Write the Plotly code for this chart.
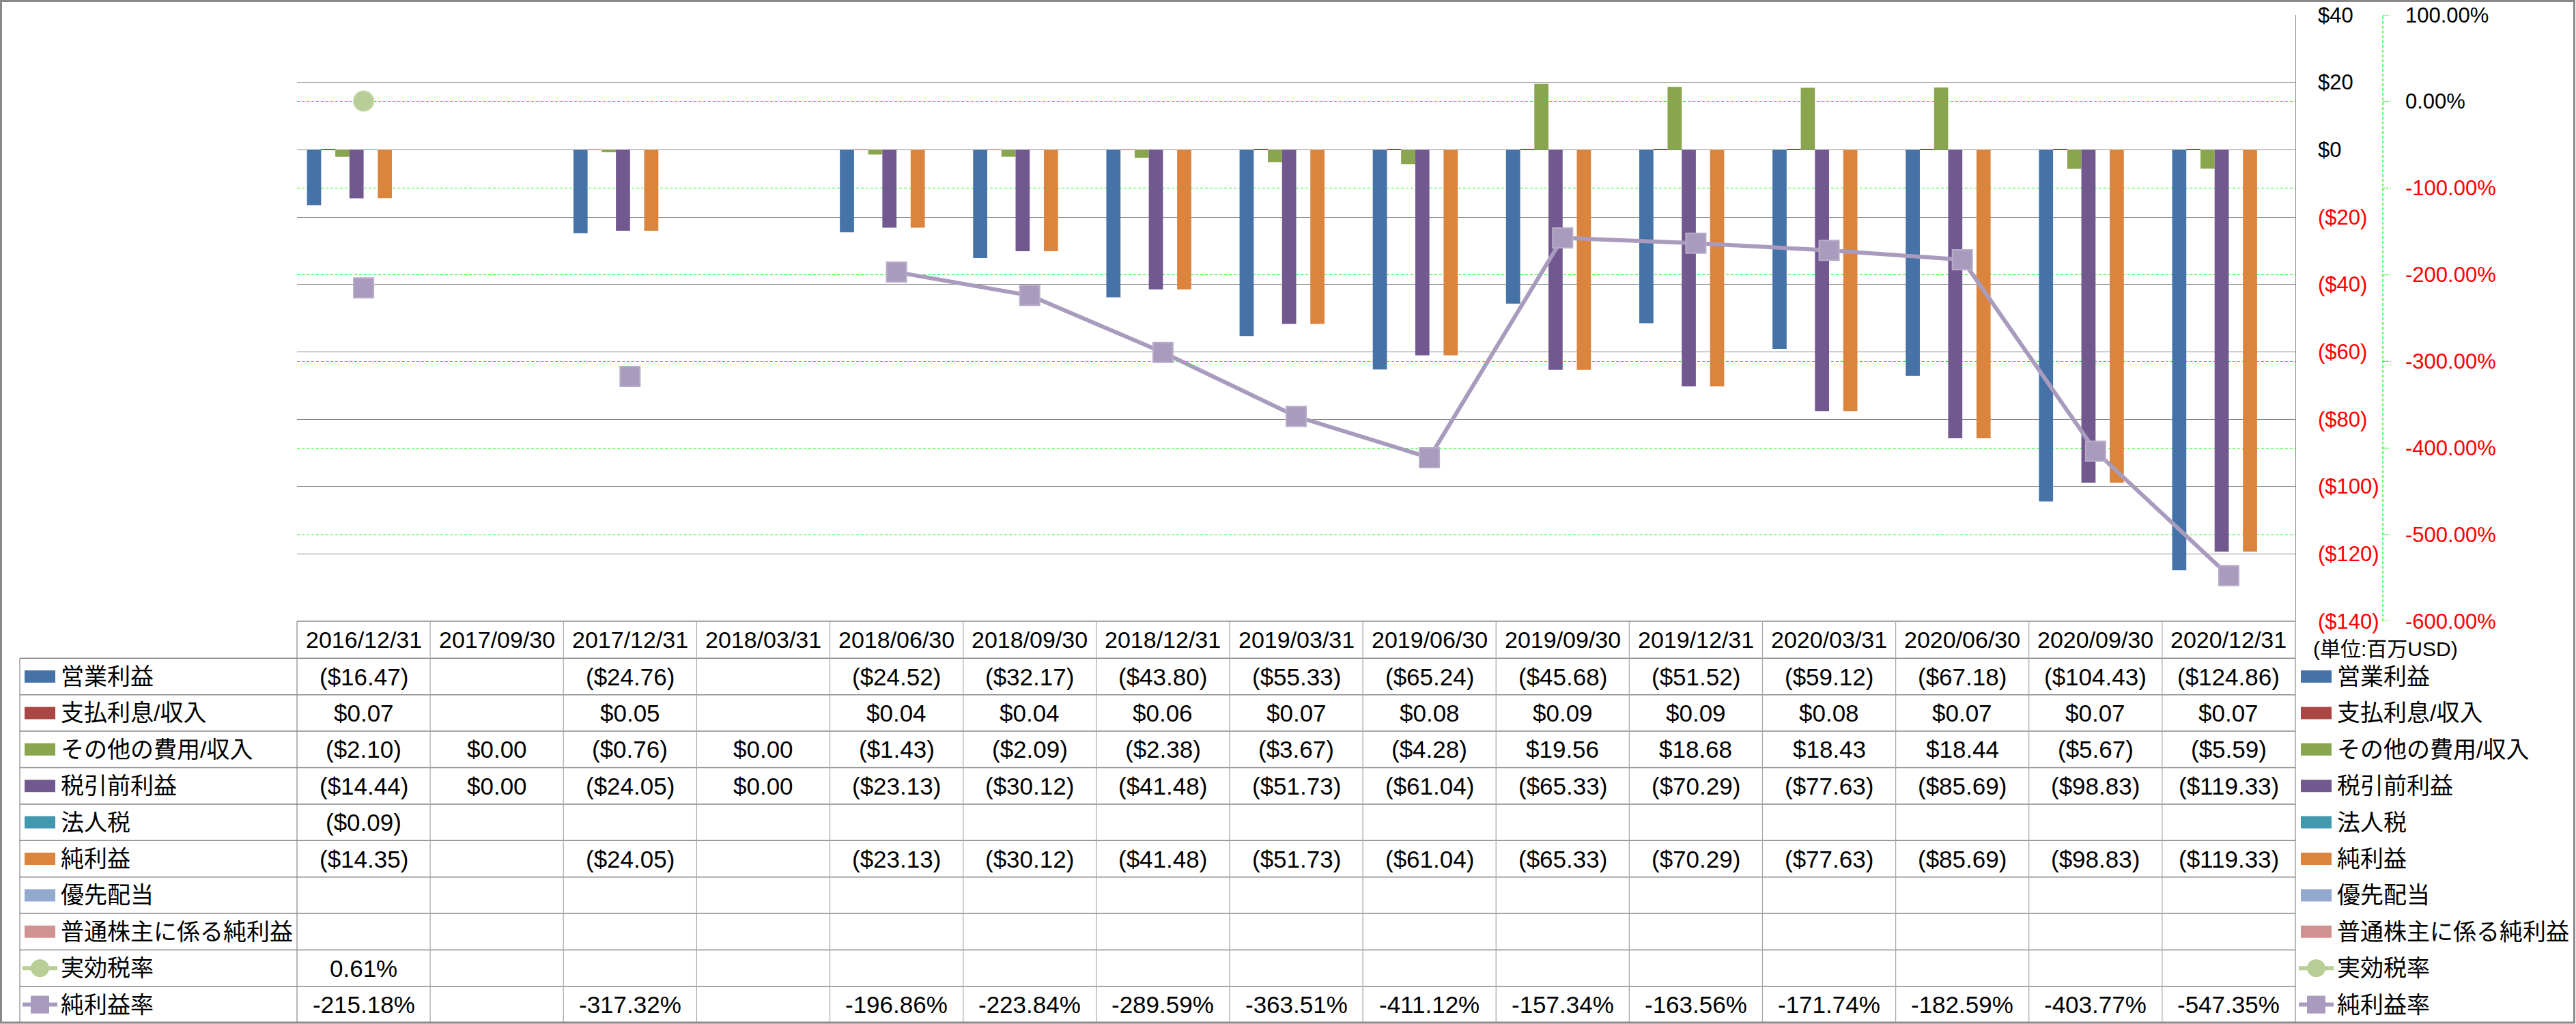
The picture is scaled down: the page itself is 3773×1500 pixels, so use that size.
import plotly.graph_objects as go

# ---- data (百万USD) ----
periods = ["2016/12/31", "2017/09/30", "2017/12/31", "2018/03/31", "2018/06/30",
           "2018/09/30", "2018/12/31", "2019/03/31", "2019/06/30", "2019/09/30",
           "2019/12/31", "2020/03/31", "2020/06/30", "2020/09/30", "2020/12/31"]

operating_income = [-16.47, None, -24.76, None, -24.52, -32.17, -43.80, -55.33,
                    -65.24, -45.68, -51.52, -59.12, -67.18, -104.43, -124.86]
interest = [0.07, None, 0.05, None, 0.04, 0.04, 0.06, 0.07,
            0.08, 0.09, 0.09, 0.08, 0.07, 0.07, 0.07]
other_income = [-2.10, 0.00, -0.76, 0.00, -1.43, -2.09, -2.38, -3.67,
                -4.28, 19.56, 18.68, 18.43, 18.44, -5.67, -5.59]
pretax_income = [-14.44, 0.00, -24.05, 0.00, -23.13, -30.12, -41.48, -51.73,
                 -61.04, -65.33, -70.29, -77.63, -85.69, -98.83, -119.33]
income_tax = [-0.09, None, None, None, None, None, None, None,
              None, None, None, None, None, None, None]
net_income = [-14.35, None, -24.05, None, -23.13, -30.12, -41.48, -51.73,
              -61.04, -65.33, -70.29, -77.63, -85.69, -98.83, -119.33]
preferred_div = [None, None, None, None, None, None, None, None,
                 None, None, None, None, None, None, None]
net_to_common = [None, None, None, None, None, None, None, None,
                 None, None, None, None, None, None, None]

effective_tax_rate = [0.0061, None, None, None, None, None, None, None,
                      None, None, None, None, None, None, None]
net_margin = [-2.1518, None, -3.1732, None, -1.9686, -2.2384, -2.8959, -3.6351,
              -4.1112, -1.5734, -1.6356, -1.7174, -1.8259, -4.0377, -5.4735]

bar_names = ["営業利益", "支払利息/収入", "その他の費用/収入", "税引前利益",
             "法人税", "純利益", "優先配当", "普通株主に係る純利益"]
bar_values = [operating_income, interest, other_income, pretax_income,
              income_tax, net_income, preferred_div, net_to_common]
bar_colors = ["#4572A7", "#AA4643", "#89A54E", "#71588F",
              "#4198AF", "#DB843D", "#93A9CF", "#D19392"]

line_names = ["実効税率", "純利益率"]
line_values = [effective_tax_rate, net_margin]
line_colors = ["#B9CD96", "#A99BBD"]
line_symbols = ["circle", "square"]

usd_ticks = [40, 20, 0, -20, -40, -60, -80, -100, -120, -140]
pct_ticks = [1, 0, -1, -2, -3, -4, -5, -6]

unit_note = "(単位:百万USD)"

# ---- geometry (pixels) ----
W, H = 3773, 1500
PL, PR, PT, PB = 435, 3362, 22, 910
HEAD_TOP, HEAD_BOT = 910, 964.3
ROW_H = 53.4
TABLE_LEFT = 29
FONT = "Liberation Sans, Noto Sans CJK JP"
GRID = "#898989"
RED = "#FF0000"


def fx(px):
    return (px - PL) / (PR - PL)


def fy(py):
    return (PB - py) / (PB - PT)


def fmt_usd(v):
    if v is None:
        return ""
    return f"(${-v:.2f})" if v < 0 else f"${v:.2f}"


def fmt_pct(v):
    if v is None:
        return ""
    return f"{v * 100:.2f}%"


fig = go.Figure()

n_bars = len(bar_names)
bar_w = 0.85 / n_bars
for k, (name, vals, color) in enumerate(zip(bar_names, bar_values, bar_colors)):
    fig.add_trace(go.Bar(
        x=periods, y=vals, name=name, marker_color=color, marker_line_width=0,
        width=bar_w, offset=-0.425 + k * bar_w,
    ))

for name, vals, color, sym in zip(line_names, line_values, line_colors, line_symbols):
    fig.add_trace(go.Scatter(
        x=periods, y=vals, name=name, yaxis="y2", mode="lines+markers",
        connectgaps=False, line=dict(color=color, width=6),
        marker=dict(symbol=sym, size=29, color=color,
                    line=dict(color="#B8ADC9" if sym == "square" else "#C4D6A6", width=2)),
    ))

shapes = []
annotations = []

# axis tick labels (placed on the axes' own scales)
for v in usd_ticks:
    annotations.append(dict(xref="paper", yref="y", x=fx(3393), y=v, showarrow=False,
                            text=f"${v}" if v >= 0 else f"(${-v})", xanchor="left", yanchor="middle",
                            font=dict(size=31, color="black" if v >= 0 else RED)))
for v in pct_ticks:
    annotations.append(dict(xref="paper", yref="y2", x=fx(3521), y=v, showarrow=False,
                            text=f"{v * 100:.2f}%", xanchor="left", yanchor="middle",
                            font=dict(size=31, color="black" if v >= 0 else RED)))

# secondary axis line and ticks (green dashed)
shapes.append(dict(type="line", xref="paper", yref="paper", x0=fx(3490), x1=fx(3490),
                   y0=0, y1=1, line=dict(color="#00FF00", width=1.3, dash="4px,3px")))
for v in pct_ticks:
    shapes.append(dict(type="line", xref="paper", yref="y2", x0=fx(3490), x1=fx(3501),
                       y0=v, y1=v, line=dict(color="#00FF00", width=1.3, dash="3px,2px")))

# table grid
col_w = (PR - PL) / len(periods)
n_rows = len(bar_names) + len(line_names)
row_tops = [HEAD_BOT + i * ROW_H for i in range(n_rows + 1)]
shapes.append(dict(type="line", xref="paper", yref="paper", x0=fx(PL), x1=fx(PR),
                   y0=fy(HEAD_TOP), y1=fy(HEAD_TOP), line=dict(color=GRID, width=1.5)))
for yl in row_tops:
    shapes.append(dict(type="line", xref="paper", yref="paper", x0=fx(TABLE_LEFT), x1=fx(PR),
                       y0=fy(yl), y1=fy(yl), line=dict(color=GRID, width=1.5)))
shapes.append(dict(type="line", xref="paper", yref="paper", x0=fx(TABLE_LEFT), x1=fx(TABLE_LEFT),
                   y0=fy(HEAD_BOT), y1=fy(row_tops[-1]), line=dict(color=GRID, width=1.2)))
for c in range(len(periods) + 1):
    xc = PL + c * col_w
    shapes.append(dict(type="line", xref="paper", yref="paper", x0=fx(xc), x1=fx(xc),
                       y0=fy(HEAD_TOP), y1=fy(row_tops[-1]),
                       line=dict(color=GRID if c in (0, len(periods)) else "#A6A6A6", width=1.2)))

# header dates
for c, p in enumerate(periods):
    annotations.append(dict(xref="paper", yref="paper", x=fx(PL + (c + 0.5) * col_w),
                            y=fy((HEAD_TOP + HEAD_BOT) / 2), text=p, showarrow=False,
                            xanchor="center", yanchor="middle", font=dict(size=34)))

# table rows
row_names = bar_names + line_names
row_values = bar_values + line_values
row_fmt = [fmt_usd] * len(bar_names) + [fmt_pct] * len(line_names)
row_colors = bar_colors + line_colors
row_kind = ["bar"] * len(bar_names) + line_symbols

for i, (name, vals, fmt, color, kind) in enumerate(zip(row_names, row_values, row_fmt, row_colors, row_kind)):
    cy = row_tops[i] + ROW_H / 2
    for c, v in enumerate(vals):
        txt = fmt(v)
        if txt:
            annotations.append(dict(xref="paper", yref="paper", x=fx(PL + (c + 0.5) * col_w),
                                    y=fy(cy), text=txt, showarrow=False, xanchor="center",
                                    yanchor="middle", font=dict(size=35)))
    # legend keys: inside table (left) and on the right side
    for kx, tx in ((36, 87), (3370, 3421)):
        if kind == "bar":
            shapes.append(dict(type="rect", xref="paper", yref="paper", x0=fx(kx), x1=fx(kx + 45),
                               y0=fy(cy - 9), y1=fy(cy + 9), fillcolor=color, line=dict(width=0)))
        else:
            shapes.append(dict(type="line", xref="paper", yref="paper", x0=fx(kx - 3), x1=fx(kx + 48),
                               y0=fy(cy), y1=fy(cy), line=dict(color=color, width=6)))
            shapes.append(dict(type="circle" if kind == "circle" else "rect", xref="paper", yref="paper",
                               x0=fx(kx + 9), x1=fx(kx + 36), y0=fy(cy - 13), y1=fy(cy + 13),
                               fillcolor=color, line=dict(width=0)))
        annotations.append(dict(xref="paper", yref="paper", x=fx(tx), y=fy(cy), text=name,
                                showarrow=False, xanchor="left", yanchor="middle", font=dict(size=34)))

annotations.append(dict(xref="paper", yref="paper", x=fx(3386), y=fy(950), text=unit_note,
                        showarrow=False, xanchor="left", yanchor="middle", font=dict(size=30)))

# outer border
shapes.append(dict(type="rect", xref="paper", yref="paper", x0=fx(1.5), x1=fx(W - 2.5),
                   y0=fy(H - 2), y1=fy(1.5), line=dict(color=GRID, width=3), fillcolor="rgba(0,0,0,0)"))

fig.update_layout(
    width=W, height=H, template="none",
    margin=dict(l=PL, r=W - PR, t=PT, b=H - PB, pad=0),
    paper_bgcolor="white", plot_bgcolor="white",
    showlegend=False, barmode="overlay",
    font=dict(family=FONT, size=34, color="black"),
    xaxis=dict(type="category", range=[-0.5, len(periods) - 0.5], showticklabels=False,
               showgrid=False, zeroline=False, showline=False, ticks="", automargin=False),
    yaxis=dict(side="right", range=[-140, 40], tickvals=usd_ticks, showticklabels=False,
               showgrid=True, gridcolor=GRID, gridwidth=1.3, zeroline=False,
               showline=True, linecolor=GRID, linewidth=1.3, ticks="", automargin=False),
    yaxis2=dict(overlaying="y", side="right", range=[-6, 1], tickvals=pct_ticks, showticklabels=False,
                showgrid=True, gridcolor="#00FF00", gridwidth=1.3, griddash="4px,3px",
                zeroline=False, showline=False, ticks="", automargin=False),
    shapes=shapes, annotations=annotations,
)

fig.write_html(
    "out.html",
    config={"displayModeBar": False},
    post_script="document.body.style.margin='0';document.body.style.overflow='hidden';",
)
